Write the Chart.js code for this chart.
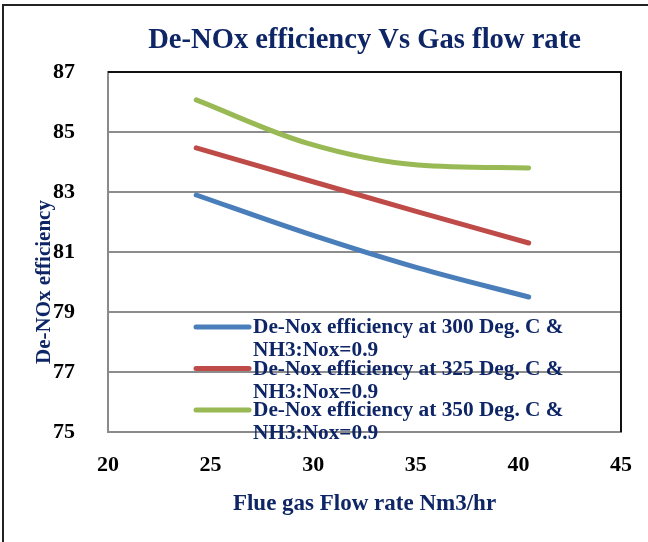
<!DOCTYPE html>
<html>
<head>
<meta charset="utf-8">
<title>De-NOx efficiency Vs Gas flow rate</title>
<script src="https://cdn.jsdelivr.net/npm/chart.js@4.4.0/dist/chart.umd.min.js"></script>
<style>
  html, body { margin: 0; padding: 0; background: #fff; }
  #wrap { width: 648px; height: 542px; }
</style>
</head>
<body>
<div id="wrap"><canvas id="chart" width="648" height="542"></canvas></div>
<script>
// flow rate (x) and efficiency values
const flowRates = [24.3, 29.7, 35.1, 40.5];
const eff300 = [82.9, 81.62, 80.47, 79.5];
const eff325 = [84.47, 83.4, 82.34, 81.3];
const eff350 = [86.07, 84.63, 83.9, 83.8];

const seriesLabels = [
  ["De-Nox efficiency at 300 Deg. C &", "NH3:Nox=0.9"],
  ["De-Nox efficiency at 325 Deg. C &", "NH3:Nox=0.9"],
  ["De-Nox efficiency at 350 Deg. C &", "NH3:Nox=0.9"]
];
const seriesColors = ["#4a7ebb", "#be4b48", "#98b954"];

const chartTitle = "De-NOx efficiency Vs Gas flow rate";
const xTitle = "Flue gas Flow rate Nm3/hr";
const yTitle = "De-NOx efficiency";

const xMin = 20, xMax = 45, xStep = 5;
const yMin = 75, yMax = 87, yStep = 2;

const navy = "#0e2566";
const serif = "'Liberation Serif', 'Times New Roman', serif";

function points(ys) {
  return flowRates.map((x, i) => ({ x: x, y: ys[i] }));
}

// title, y title, legend and frame are drawn here
const decor = {
  id: "decor",
  beforeDraw(chart) {
    const ctx = chart.ctx;
    ctx.save();
    ctx.fillStyle = "#fff";
    ctx.fillRect(0, 0, chart.width, chart.height);
    ctx.strokeStyle = "#222";
    ctx.lineWidth = 2;
    ctx.strokeRect(3, 5, chart.width + 20, chart.height + 20);
    ctx.restore();
  },
  afterDraw(chart) {
    const ctx = chart.ctx;
    const a = chart.chartArea;
    ctx.save();

    // plot area border, top and right
    ctx.strokeStyle = "#111";
    ctx.lineWidth = 2;
    ctx.beginPath();
    ctx.moveTo(a.left, a.top);
    ctx.lineTo(a.right, a.top);
    ctx.lineTo(a.right, a.bottom);
    ctx.stroke();

    // chart title
    ctx.fillStyle = navy;
    ctx.font = "bold 28.6px " + serif;
    ctx.textAlign = "center";
    ctx.textBaseline = "alphabetic";
    ctx.fillText(chartTitle, (a.left + a.right) / 2, 48);

    // y axis title
    ctx.save();
    ctx.translate(50, 282);
    ctx.rotate(-Math.PI / 2);
    ctx.font = "bold 21px " + serif;
    ctx.textAlign = "center";
    ctx.fillText(yTitle, 0, 0);
    ctx.restore();

    // legend
    ctx.font = "bold 21.3px " + serif;
    ctx.textAlign = "left";
    chart.data.datasets.forEach((ds, i) => {
      const base = 333 + i * 41.5;
      ctx.strokeStyle = ds.borderColor;
      ctx.lineWidth = 5;
      ctx.lineCap = "round";
      ctx.beginPath();
      ctx.moveTo(196, base - 6);
      ctx.lineTo(249, base - 6);
      ctx.stroke();
      ctx.fillStyle = navy;
      seriesLabels[i].forEach((line, j) => {
        ctx.fillText(line, 253, base + j * 23);
      });
    });
    ctx.restore();
  }
};

const datasets = [eff300, eff325, eff350].map((ys, i) => ({
  label: seriesLabels[i].join(" "),
  data: points(ys),
  borderColor: seriesColors[i],
  backgroundColor: seriesColors[i],
  borderWidth: 5,
  borderCapStyle: "round",
  pointRadius: 0,
  cubicInterpolationMode: "monotone",
  fill: false
}));

new Chart(document.getElementById("chart"), {
  type: "line",
  data: { datasets: datasets },
  options: {
    responsive: false,
    animation: false,
    devicePixelRatio: 1,
    layout: { padding: { top: 72, right: 27, left: 0, bottom: 0 } },
    plugins: {
      legend: { display: false },
      title: { display: false },
      tooltip: { enabled: false }
    },
    scales: {
      x: {
        type: "linear",
        min: xMin,
        max: xMax,
        afterFit(scale) {
          scale.height = 110;
          scale.paddingLeft = 0;
          scale.paddingRight = 0;
        },
        ticks: {
          stepSize: xStep,
          padding: 20,
          color: "#000",
          font: { family: serif, size: 22, weight: "bold" }
        },
        grid: { display: false, drawTicks: false },
        border: { display: true, color: "#8a8a8a", width: 2 },
        title: {
          display: true,
          text: xTitle,
          color: navy,
          font: { family: serif, size: 23, weight: "bold" },
          padding: { top: 0, bottom: 24 }
        }
      },
      y: {
        min: yMin,
        max: yMax,
        afterFit(scale) { scale.width = 108; },
        ticks: {
          stepSize: yStep,
          padding: 33,
          color: "#000",
          font: { family: serif, size: 22, weight: "bold" }
        },
        grid: { color: "#8c8c8c", lineWidth: 2, drawTicks: false },
        border: { display: true, color: "#8a8a8a", width: 2 }
      }
    }
  },
  plugins: [decor]
});
</script>
</body>
</html>
